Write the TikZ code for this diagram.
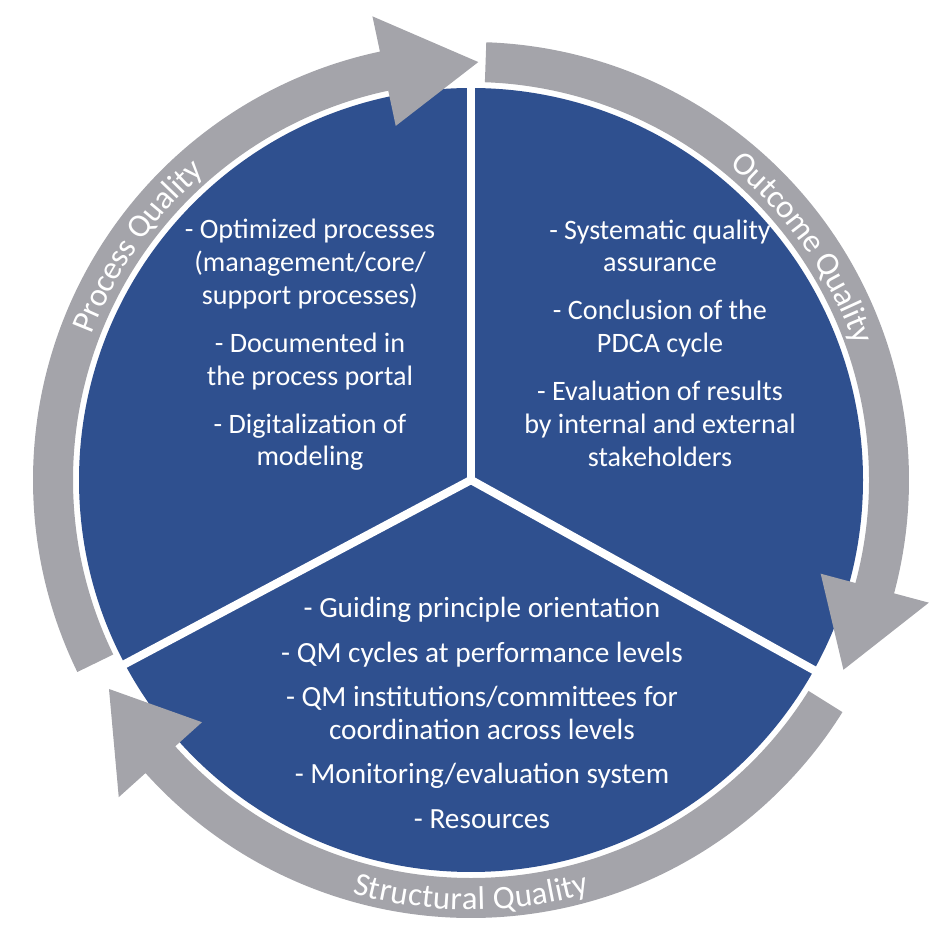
\documentclass[tikz,border=0pt]{standalone}
\usepackage{fontspec}
\setmainfont{Carlito}
\usetikzlibrary{decorations.text}
\definecolor{qblue}{RGB}{47,80,143}
\definecolor{qgray}{RGB}{164,164,170}
\tikzset{
  ring/.style={fill=qgray,draw=none},
  body/.style={text=white,align=center,font=\fontsize{24}{28}\selectfont},
  divider/.style={white,line width=7pt},
}
\newcommand{\ringarrow}[3]{% start, headstart, end (clockwise, decreasing)
  \fill[ring] (#1:438) arc[start angle=#1,end angle=#2,radius=438]
    -- (#2:474) -- (#3:418) -- (#2:362) -- (#2:398)
    arc[start angle=#2,end angle=#1,radius=398] -- cycle;}
\newcommand{\ringlabel}[3]{% start,end,text
  \path[decorate,decoration={text effects along path,text={#3},text align=center,raise=-10pt,
    text effects/.cd,text along path,
    characters={text=white,font=\fontsize{28}{28}\selectfont}}]
    (#1:418) arc[start angle=#1,end angle=#2,radius=418];}
\begin{document}
\begin{tikzpicture}[x=0.03cm,y=0.03cm]
\useasboundingbox (0,0) rectangle (947,947);
\begin{scope}[shift={(471,467)}]
  \fill[qblue] (0,0) circle[radius=392];
  \coordinate (c) at (0,0);
  \coordinate (t) at (90:394);
  \coordinate (r) at (-29:394);
  \coordinate (l) at (208:394);
  \draw[divider] (c) -- (t);
  \draw[divider] (c) -- (r);
  \draw[divider] (c) -- (l);
  \ringarrow{206}{102}{89}
  \ringarrow{88}{-15}{-27}
  \ringarrow{-32}{-138}{-150}
  \ringlabel{175}{115}{Process Quality}
  \ringlabel{70}{0}{Outcome Quality}
  \ringlabel{230}{310}{Structural Quality}
\end{scope}
\node[body] (p) at (310,602) {- Optimized processes\\(management/core/\\support processes)\\[13pt]- Documented in\\the process portal\\[13pt]- Digitalization of\\modeling};
\node[body] (o) at (660,604) {- Systematic quality\\assurance\\[13pt]- Conclusion of the\\PDCA cycle\\[13pt]- Evaluation of results\\by internal and external\\stakeholders};
\node[body,font=\fontsize{25}{28}\selectfont] (s) at (482,234) {- Guiding principle orientation\\[10pt]- QM cycles at performance levels\\[10pt]- QM institutions/committees for\\coordination across levels\\[10pt]- Monitoring/evaluation system\\[10pt]- Resources};
\end{tikzpicture}
\end{document}
